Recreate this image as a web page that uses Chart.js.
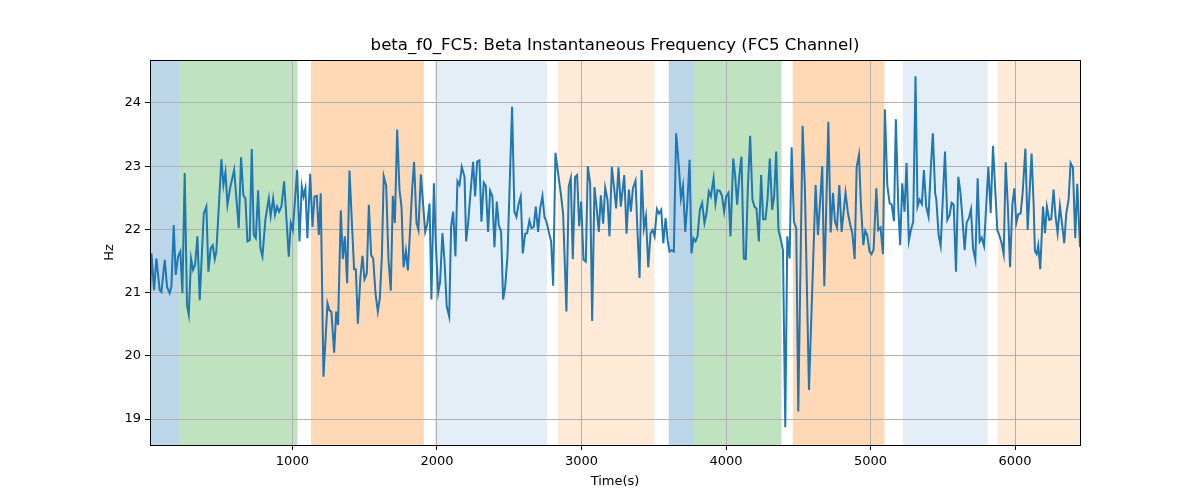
<!DOCTYPE html>
<html>
<head>
<meta charset="utf-8">
<script src="https://cdn.jsdelivr.net/npm/chart.js@4.4.1/dist/chart.umd.min.js"></script>
<style>
  html, body { margin: 0; padding: 0; background: #fff; }
  #wrap { width: 1200px; height: 500px; }
</style>
</head>
<body>
<div id="wrap"><canvas id="freqChart" width="1200" height="500"></canvas></div>
<script>
// time stamps (s) and beta instantaneous frequency (Hz)
const times = [
  15, 25, 43, 59, 82, 94, 117, 133, 151, 163, 179, 193, 209, 225, 239, 255, 271, 283, 299, 313,
  327, 343, 359, 387, 405, 419, 435, 449, 463, 474, 509, 523, 537, 551, 569, 597, 629, 645, 661, 675,
  689, 705, 719, 733, 747, 763, 779, 793, 813, 837, 850, 867, 880, 894, 908, 924, 943, 975, 989, 1003,
  1033, 1049, 1065, 1077, 1090, 1104, 1123, 1139, 1153, 1169, 1183, 1196, 1215, 1243, 1256, 1270, 1289, 1303, 1316, 1335,
  1349, 1363, 1379, 1395, 1427, 1439, 1453, 1471, 1485, 1499, 1515, 1529, 1545, 1559, 1575, 1591, 1605, 1619, 1632, 1649,
  1665, 1681, 1695, 1709, 1725, 1741, 1755, 1769, 1785, 1799, 1815, 1829, 1842, 1859, 1872, 1889, 1902, 1919, 1932, 1949,
  1962, 1979, 1992, 2009, 2022, 2038, 2052, 2068, 2085, 2098, 2112, 2128, 2142, 2156, 2172, 2191, 2202, 2216, 2232, 2250,
  2264, 2278, 2294, 2308, 2324, 2338, 2354, 2368, 2384, 2398, 2414, 2428, 2444, 2458, 2472, 2488, 2520, 2536, 2550, 2566,
  2580, 2594, 2610, 2624, 2640, 2654, 2670, 2684, 2700, 2714, 2730, 2744, 2758, 2774, 2790, 2804, 2820, 2838, 2857, 2873,
  2896, 2912, 2926, 2940, 2956, 2970, 2984, 2998, 3014, 3030, 3044, 3060, 3074, 3090, 3104, 3120, 3134, 3150, 3164, 3180,
  3194, 3210, 3226, 3240, 3256, 3272, 3296, 3312, 3328, 3342, 3356, 3374, 3388, 3402, 3416, 3432, 3446, 3462, 3478, 3492,
  3506, 3522, 3536, 3552, 3566, 3582, 3596, 3609, 3623, 3639, 3655, 3674, 3688, 3702, 3718, 3732, 3748, 3761, 3775, 3789,
  3803, 3819, 3835, 3851, 3865, 3881, 3895, 3914, 3927, 3941, 3957, 3971, 3987, 4001, 4017, 4031, 4050, 4063, 4077, 4093,
  4107, 4123, 4137, 4151, 4167, 4183, 4197, 4211, 4227, 4243, 4257, 4273, 4287, 4303, 4319, 4333, 4347, 4363, 4380, 4394,
  4410, 4424, 4440, 4454, 4470, 4486, 4500, 4530, 4546, 4574, 4620, 4636, 4650, 4666, 4680, 4708, 4724, 4740, 4754, 4768,
  4784, 4800, 4814, 4827, 4844, 4860, 4874, 4890, 4904, 4920, 4933, 4950, 4963, 4977, 4993, 5007, 5021, 5040, 5053, 5069,
  5086, 5099, 5116, 5132, 5146, 5162, 5175, 5192, 5205, 5219, 5235, 5249, 5265, 5279, 5295, 5311, 5325, 5339, 5355, 5369,
  5385, 5401, 5418, 5431, 5447, 5455, 5471, 5485, 5515, 5531, 5547, 5561, 5575, 5591, 5607, 5621, 5635, 5651, 5665, 5681,
  5695, 5709, 5725, 5741, 5755, 5769, 5785, 5815, 5831, 5847, 5861, 5877, 5893, 5907, 5921, 5935, 5951, 5965, 5981, 5995,
  6008, 6022, 6038, 6052, 6071, 6087, 6101, 6114, 6128, 6137, 6149, 6160, 6174, 6193, 6207, 6220, 6236, 6250, 6266, 6280,
  6294, 6310, 6324, 6340, 6354, 6370, 6384, 6400, 6416, 6430, 6449
];
const freqHz = [
  20.96, 21.62, 21.04, 21.54, 21.04, 21.01, 21.52, 21.09, 20.99, 21.09, 22.07, 21.28, 21.57, 21.65, 20.99, 22.89, 20.80, 20.65, 21.54, 21.36,
  21.44, 21.89, 20.88, 22.25, 22.36, 21.33, 21.70, 21.75, 21.53, 21.65, 23.11, 22.70, 22.91, 22.39, 22.65, 22.94, 22.02, 23.14, 22.54, 22.49,
  21.81, 21.83, 23.27, 21.91, 21.86, 22.62, 21.70, 21.57, 22.15, 22.49, 22.21, 22.49, 22.23, 22.36, 22.28, 22.36, 22.76, 21.57, 22.10, 21.99,
  22.94, 21.81, 22.68, 22.52, 22.65, 21.86, 22.88, 22.04, 22.52, 22.53, 21.91, 22.57, 19.67, 20.83, 20.72, 20.70, 20.05, 20.70, 20.49, 22.30,
  21.53, 21.89, 21.15, 22.93, 21.37, 21.37, 20.51, 21.25, 21.58, 21.21, 21.30, 22.39, 21.59, 21.54, 20.99, 20.70, 20.91, 21.57, 22.84, 22.69,
  21.52, 21.03, 22.53, 22.10, 23.58, 22.62, 22.36, 21.40, 21.66, 21.35, 22.02, 22.65, 23.07, 22.10, 21.99, 22.87, 22.47, 21.96, 22.07, 22.41,
  20.89, 22.73, 21.78, 21.00, 21.17, 21.94, 21.52, 20.78, 20.62, 22.04, 22.28, 21.57, 22.76, 22.70, 22.99, 22.83, 21.81, 22.10, 22.57, 23.07,
  22.52, 23.07, 23.09, 22.12, 22.74, 22.69, 21.96, 22.61, 22.52, 21.72, 22.44, 22.07, 21.96, 20.89, 21.09, 21.57, 23.94, 22.28, 22.20, 22.41,
  22.52, 21.62, 21.93, 21.94, 22.14, 22.02, 22.04, 22.36, 21.96, 22.33, 22.53, 22.20, 22.12, 21.96, 21.81, 21.11, 23.21, 22.89, 22.57, 22.25,
  20.70, 22.68, 22.81, 21.53, 22.83, 22.86, 22.05, 22.44, 21.52, 21.49, 23.00, 22.73, 20.55, 22.67, 22.36, 21.96, 22.54, 22.09, 22.66, 22.47,
  21.89, 22.99, 22.65, 22.33, 22.98, 22.36, 22.86, 21.93, 22.63, 22.28, 22.65, 22.77, 21.94, 21.23, 22.94, 22.02, 22.21, 21.40, 21.94, 21.99,
  21.89, 22.32, 22.25, 22.31, 21.78, 22.18, 21.83, 21.65, 21.67, 21.65, 23.52, 22.99, 22.49, 22.69, 21.96, 22.41, 23.10, 21.62, 21.86, 21.81,
  21.89, 22.31, 22.42, 22.10, 22.25, 22.60, 22.52, 22.81, 22.41, 22.62, 22.61, 22.54, 22.28, 22.52, 22.58, 21.89, 23.12, 22.86, 22.39, 22.86,
  23.15, 21.54, 21.53, 22.65, 23.48, 22.47, 22.36, 22.33, 21.81, 22.86, 22.16, 22.16, 22.47, 23.12, 22.31, 22.52, 23.23, 21.99, 21.83, 21.67,
  18.87, 21.89, 21.54, 23.30, 22.12, 22.02, 19.12, 23.64, 22.62, 19.46, 22.70, 21.91, 22.41, 23.00, 21.10, 23.70, 21.95, 22.58, 22.12, 22.03,
  22.70, 21.96, 22.28, 22.58, 22.25, 22.07, 21.94, 21.53, 22.99, 23.18, 22.41, 21.75, 21.98, 21.91, 21.65, 21.61, 21.68, 22.65, 21.99, 22.03,
  21.61, 23.90, 22.69, 22.41, 22.39, 22.13, 23.74, 22.33, 21.75, 22.73, 22.28, 23.05, 21.82, 21.99, 22.12, 24.42, 22.36, 22.47, 22.40, 22.94,
  22.36, 22.20, 23.02, 23.52, 22.57, 22.47, 21.91, 21.74, 23.23, 22.15, 22.23, 22.42, 22.39, 21.33, 22.83, 22.60, 22.20, 21.67, 22.11, 22.18,
  22.32, 21.70, 21.52, 22.81, 21.81, 21.87, 21.74, 22.99, 22.26, 23.32, 22.70, 21.99, 21.89, 21.78, 21.61, 23.06, 22.31, 21.40, 22.39, 22.65,
  22.10, 22.24, 22.25, 22.57, 23.28, 21.99, 22.62, 23.20, 22.41, 21.66, 21.61, 21.75, 21.37, 22.36, 21.94, 22.36, 22.15, 22.16, 22.63, 22.20,
  21.94, 22.37, 22.10, 21.78, 22.25, 22.47, 23.05, 22.98, 21.86, 22.72, 21.72
];

// shaded segments (start, end in seconds) and their fill
const spanStart = [15, 216, 1129, 1986, 2837, 3604, 3777, 4462, 5223, 5880];
const spanEnd   = [216, 1036, 1910, 2761, 3505, 3777, 4384, 5096, 5811, 6449];
const spanFill = [
  'rgba(31,119,180,0.3)', 'rgba(44,160,44,0.3)', 'rgba(255,127,14,0.3)', 'rgba(31,119,180,0.12)', 'rgba(255,127,14,0.16)',
  'rgba(31,119,180,0.3)', 'rgba(44,160,44,0.3)', 'rgba(255,127,14,0.3)', 'rgba(31,119,180,0.12)', 'rgba(255,127,14,0.16)'
];

const xTicks = [1000, 2000, 3000, 4000, 5000, 6000];
const yTicks = [19, 20, 21, 22, 23, 24];

const points = times.map((t, i) => ({ x: t, y: freqHz[i] }));

// draw the coloured spans under the grid
const spanPlugin = {
  id: 'spans',
  beforeDraw(chart) {
    const { ctx, chartArea, scales } = chart;
    ctx.save();
    spanStart.forEach((s, i) => {
      const x0 = scales.x.getPixelForValue(s);
      const x1 = scales.x.getPixelForValue(spanEnd[i]);
      ctx.fillStyle = spanFill[i];
      ctx.fillRect(x0, chartArea.top, x1 - x0, chartArea.bottom - chartArea.top);
    });
    ctx.restore();
  }
};

// black frame round the plot area
const framePlugin = {
  id: 'frame',
  afterDraw(chart) {
    const { ctx, chartArea } = chart;
    ctx.save();
    ctx.strokeStyle = '#000';
    ctx.lineWidth = 1;
    ctx.strokeRect(Math.round(chartArea.left) + 0.5, Math.round(chartArea.top) + 0.5,
      Math.round(chartArea.right - chartArea.left), Math.round(chartArea.bottom - chartArea.top));
    ctx.restore();
  }
};

Chart.defaults.font.family = "'DejaVu Sans', sans-serif";
Chart.defaults.color = '#000';

new Chart(document.getElementById('freqChart').getContext('2d'), {
  type: 'line',
  data: {
    datasets: [{
      data: points,
      borderColor: '#1f77b4',
      borderWidth: 2,
      pointRadius: 0,
      tension: 0,
      fill: false
    }]
  },
  options: {
    responsive: false,
    animation: false,
    layout: { padding: { left: 100, right: 120, top: 0, bottom: 0 } },
    plugins: {
      legend: { display: false },
      tooltip: { enabled: false },
      title: {
        display: true,
        fullSize: false,
        text: 'beta_f0_FC5: Beta Instantaneous Frequency (FC5 Channel)',
        font: { size: 16.6, weight: 'normal', lineHeight: 1.2 },
        padding: { top: 36, bottom: 4 }
      }
    },
    scales: {
      x: {
        type: 'linear',
        min: 15,
        max: 6449,
        afterFit: s => { s.height = 55; },
        afterBuildTicks: s => { s.ticks = xTicks.map(v => ({ value: v })); },
        grid: { color: '#b0b0b0', lineWidth: 1, tickColor: '#000', tickLength: 5 },
        border: { display: false },
        ticks: { font: { size: 13 }, padding: 4, maxRotation: 0, callback: v => String(v) },
        title: { display: true, text: 'Time(s)', font: { size: 13 }, padding: { top: 0, bottom: 11 } }
      },
      y: {
        min: 18.59,
        max: 24.68,
        afterFit: s => { s.width = 50; },
        afterBuildTicks: s => { s.ticks = yTicks.map(v => ({ value: v })); },
        grid: { color: '#b0b0b0', lineWidth: 1, tickColor: '#000', tickLength: 5 },
        border: { display: false },
        ticks: { font: { size: 13 }, padding: 4 },
        title: { display: true, text: 'Hz', font: { size: 13 }, padding: { top: 2, bottom: 0 } }
      }
    }
  },
  plugins: [spanPlugin, framePlugin]
});
</script>
</body>
</html>
